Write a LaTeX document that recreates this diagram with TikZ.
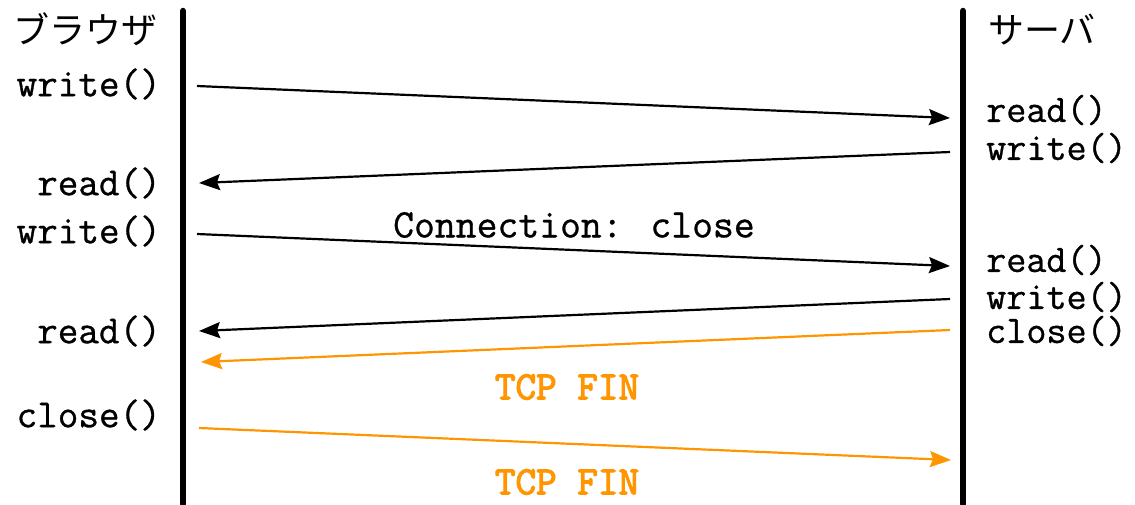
\documentclass[tikz,border=0pt]{standalone}
\usepackage{fontspec}
\newfontfamily\cour{Latin Modern Mono}[FakeBold=0.8]
\newfontfamily\courbold{Latin Modern Mono}[FakeBold=3]
\newfontfamily\jpfont{Noto Sans CJK JP}
\usetikzlibrary{arrows.meta}
\definecolor{finorange}{RGB}{255,149,0}
\tikzset{
  lifeline/.style={line width=6.5pt},
  msg/.style={line width=2.2pt, -{Stealth[length=21pt,width=16pt,inset=3pt]}},
  finmsg/.style={msg, draw=finorange},
  fn/.style={font=\fontsize{40}{40}\selectfont\cour, inner sep=0pt},
  sfn/.style={font=\fontsize{39}{40}\selectfont\cour, inner sep=0pt},
  hdr/.style={font=\fontsize{36}{38}\selectfont\jpfont, inner sep=0pt},
  lbl/.style={font=\fontsize{40.5}{42}\selectfont\cour, inner sep=0pt},
  finlbl/.style={font=\fontsize{40}{40}\selectfont\courbold, text=finorange, inner sep=0pt},
}
\begin{document}
\begin{tikzpicture}[x=1pt,y=-1pt]
\useasboundingbox (0,0) rectangle (1135,504);
% lifelines
\coordinate (bt) at (183,11);
\coordinate (bb) at (183,504);
\coordinate (st) at (963,11);
\coordinate (sb) at (963,504);
\draw[lifeline, line cap=round] (bt) -- (bb);
\draw[lifeline, line cap=round] (st) -- (sb);
% headers
\node[hdr, anchor=west] (browser) at (13,29) {ブラウザ};
\node[hdr, anchor=west] (server) at (988,30) {サーバ};
% browser labels
\node[fn, anchor=east] (bw1) at (161,84) {write()};
\node[fn, anchor=east] (br1) at (161,183) {read()};
\node[fn, anchor=east] (bw2) at (161,231) {write()};
\node[fn, anchor=east] (br2) at (161,331) {read()};
\node[fn, anchor=east] (bc) at (161,415) {close()};
% server labels
\node[sfn, anchor=west] (sr1) at (986,110) {read()};
\node[sfn, anchor=west] (sw1) at (986,148) {write()};
\node[sfn, anchor=west] (sr2) at (986,260) {read()};
\node[sfn, anchor=west] (sw2) at (986,297) {write()};
\node[sfn, anchor=west] (sc) at (986,331) {close()};
% arrow end points
\coordinate (a1s) at (197,86);  \coordinate (a1e) at (950,118);
\coordinate (a2s) at (950,152); \coordinate (a2e) at (199,183);
\coordinate (a3s) at (197,234); \coordinate (a3e) at (950,266);
\coordinate (a4s) at (950,299); \coordinate (a4e) at (199,331);
\coordinate (a5s) at (950,330); \coordinate (a5e) at (201,362);
\coordinate (a6s) at (199,428); \coordinate (a6e) at (951,460);
\draw[msg] (a1s) -- (a1e);
\draw[msg] (a2s) -- (a2e);
\draw[msg] (a3s) -- (a3e);
\draw[msg] (a4s) -- (a4e);
\draw[finmsg] (a5s) -- (a5e);
\draw[finmsg] (a6s) -- (a6e);
% message labels
\node[lbl] (conn) at (574,225) {Connection: close};
\node[finlbl] (fin1) at (567,387) {TCP FIN};
\node[finlbl] (fin2) at (567,482) {TCP FIN};
\end{tikzpicture}
\end{document}
